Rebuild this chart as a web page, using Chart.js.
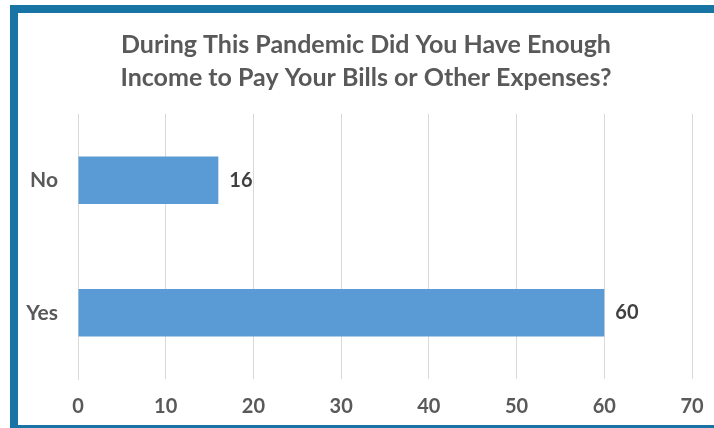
<!DOCTYPE html>
<html>
<head>
<meta charset="utf-8">
<script src="https://cdn.jsdelivr.net/npm/chart.js@4"></script>
<style>
  body { margin: 0; background: #fff; }
  .frame {
    position: absolute; left: 10px; top: 5px;
    width: 704px; height: 423px; box-sizing: border-box;
    border-left: 8px solid #1874a4; border-top: 8px solid #1874a4;
    border-bottom: 3px solid #1874a4; background: #fff;
  }
</style>
</head>
<body>
<div class="frame"><canvas id="chart" width="696" height="412"></canvas></div>
<script>
const categories = ["No", "Yes"];
const responses = [16, 60];
const titleLines = ["During This Pandemic Did You Have Enough", "Income to Pay Your Bills or Other Expenses?"];

// draw value labels just past the end of each bar
const valueLabels = {
  id: "valueLabels",
  afterDatasetsDraw(chart) {
    const ctx = chart.ctx;
    const meta = chart.getDatasetMeta(0);
    ctx.save();
    ctx.font = "bold 20px Lato";
    ctx.fillStyle = "#404040";
    ctx.textAlign = "left";
    ctx.textBaseline = "middle";
    meta.data.forEach((bar, i) => {
      ctx.fillText(String(responses[i]), bar.x + 11, bar.y);
    });
    ctx.restore();
  }
};

const ctx = document.getElementById("chart").getContext("2d");
new Chart(ctx, {
  type: "bar",
  data: {
    labels: categories,
    datasets: [{
      data: responses,
      backgroundColor: "#5b9bd5",
      barPercentage: 0.9,
      categoryPercentage: 0.4
    }]
  },
  options: {
    indexAxis: "y",
    responsive: false,
    animation: false,
    layout: { padding: { left: 0, right: 0, top: 0, bottom: 6 } },
    plugins: {
      legend: { display: false },
      tooltip: { enabled: false },
      title: {
        display: true,
        text: titleLines,
        color: "#595959",
        font: { family: "Lato", size: 25, weight: "bold", lineHeight: 1.3 },
        padding: { top: 16, bottom: 20 }
      }
    },
    scales: {
      x: {
        min: 0,
        max: 70,
        afterFit(scale) {
          scale.height = 40;
          scale.paddingLeft = 0;
          scale.paddingRight = 22;
        },
        ticks: {
          stepSize: 10,
          color: "#595959",
          font: { family: "Lato", size: 20, weight: "bold", lineHeight: 1.2 },
          padding: 16
        },
        grid: { color: "#d9d9d9", drawTicks: false },
        border: { display: false }
      },
      y: {
        afterFit(scale) {
          scale.width = 60;
          scale.paddingTop = 0;
          scale.paddingBottom = 0;
        },
        ticks: {
          color: "#595959",
          font: { family: "Lato", size: 21, weight: "bold" },
          padding: 20
        },
        grid: { display: false, drawTicks: false },
        border: { color: "#d9d9d9" }
      }
    }
  },
  plugins: [valueLabels]
});
</script>
</body>
</html>
